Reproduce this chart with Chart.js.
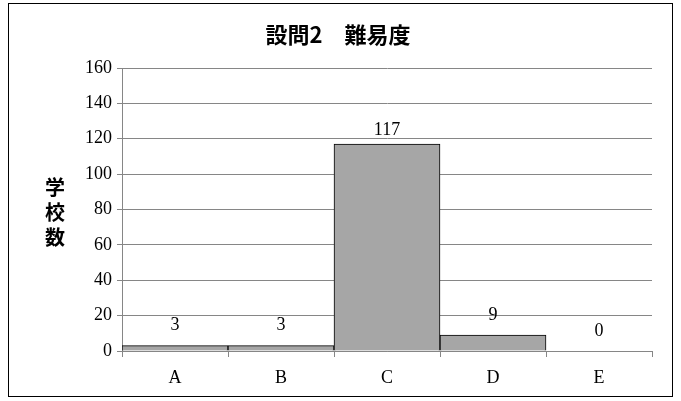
<!DOCTYPE html>
<html>
<head>
<meta charset="utf-8">
<script src="https://cdn.jsdelivr.net/npm/chart.js@4"></script>
<style>
  html, body { margin: 0; padding: 0; background: #fff; }
  #wrap { width: 681px; height: 401px; }
</style>
</head>
<body>
<div id="wrap"><canvas id="chart" width="681" height="401"></canvas></div>
<script>
const categories = ['A', 'B', 'C', 'D', 'E'];
const counts = [3, 3, 117, 9, 0];
const titleText = '設問2　難易度';
const yTitleChars = ['学', '校', '数'];

const serif = "Liberation Serif";
const gothic = "Noto Sans CJK JP";

// frame, title, vertical axis title and value labels
const decorations = {
    id: 'decorations',
    afterDraw(chart) {
        const ctx = chart.ctx;
        ctx.save();
        ctx.strokeStyle = '#000';
        ctx.lineWidth = 1;
        ctx.strokeRect(8.5, 3.5, 664, 393);

        ctx.fillStyle = '#000';
        ctx.textAlign = 'center';
        ctx.textBaseline = 'middle';
        ctx.font = "bold 22px '" + gothic + "'";
        ctx.fillText(titleText, 338, 35);

        ctx.font = "bold 20px '" + gothic + "'";
        yTitleChars.forEach((c, i) => ctx.fillText(c, 55, 187 + i * 25));

        ctx.font = "18px '" + serif + "'";
        ctx.textBaseline = 'bottom';
        const meta = chart.getDatasetMeta(0);
        meta.data.forEach((bar, i) => {
            const off = counts[i] > 50 ? 5 : 11;
            ctx.fillText(String(counts[i]), bar.x, bar.y - off);
        });
        ctx.restore();
    }
};

new Chart(document.getElementById('chart'), {
    type: 'bar',
    data: {
        labels: categories,
        datasets: [{
            data: counts,
            backgroundColor: '#a6a6a6',
            borderColor: '#000',
            borderWidth: 1,
            barPercentage: 1,
            categoryPercentage: 1
        }]
    },
    options: {
        responsive: false,
        animation: false,
        layout: {padding: {left: 72, top: 68, right: 29, bottom: 10}},
        plugins: {legend: {display: false}, tooltip: {enabled: false}, title: {display: false}},
        scales: {
            x: {
                grid: {offset: true, drawOnChartArea: false, color: '#868686', tickLength: 6},
                border: {color: '#868686'},
                ticks: {font: {family: serif, size: 18}, color: '#000', padding: 10},
                afterFit: (s) => { s.height = 40; s.paddingLeft = 0; s.paddingRight = 0; }
            },
            y: {
                min: 0, max: 160,
                ticks: {stepSize: 20, font: {family: serif, size: 18}, color: '#000', padding: 5},
                grid: {color: '#868686', tickLength: 5},
                border: {color: '#868686'},
                afterFit: (s) => { s.width = 50; s.paddingTop = 0; s.paddingBottom = 0; }
            }
        }
    },
    plugins: [decorations]
});
</script>
</body>
</html>
